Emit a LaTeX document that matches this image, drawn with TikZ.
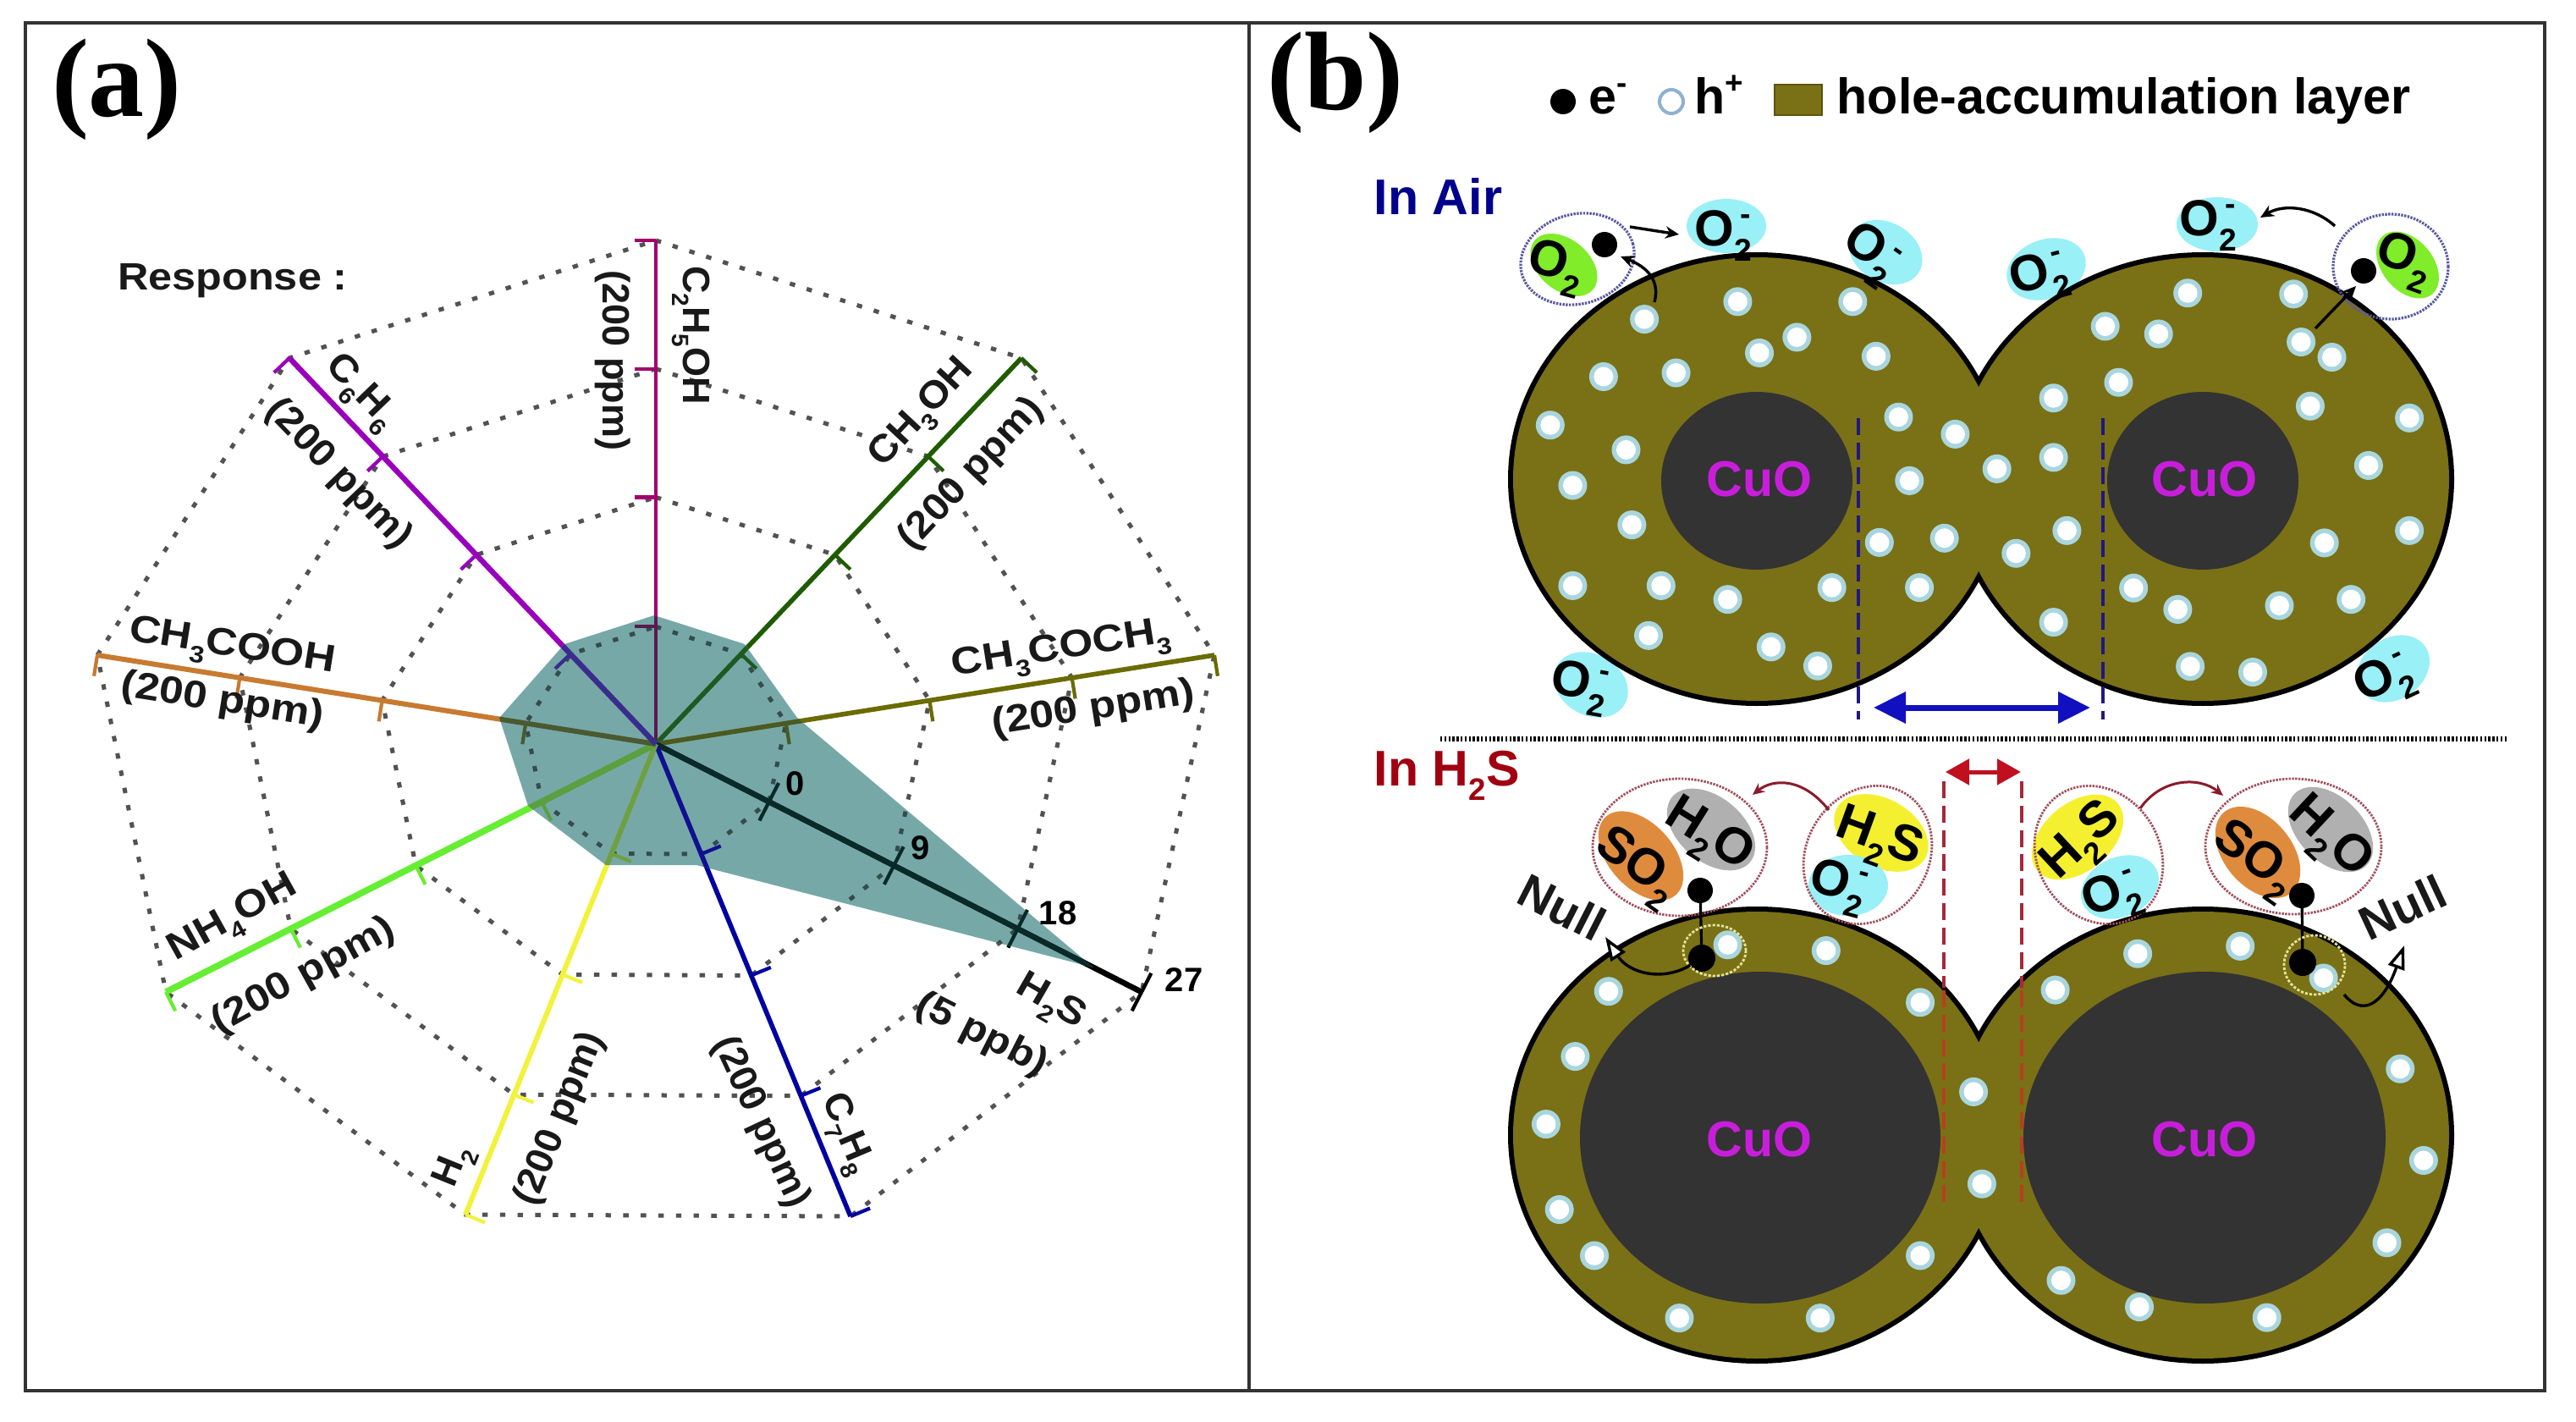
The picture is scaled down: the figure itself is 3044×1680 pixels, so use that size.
\documentclass[tikz,border=0pt]{standalone}
\usepackage{fontspec}
\setmainfont{Liberation Sans}
\newfontfamily\titlefont{Liberation Serif}
\usetikzlibrary{calc,arrows.meta,shapes.geometric}
\definecolor{olivefill}{HTML}{7A7016}
\definecolor{oliveedge}{HTML}{5C5410}
\definecolor{coredark}{HTML}{333333}
\definecolor{cuotxt}{HTML}{C81EDC}
\definecolor{cyanb}{HTML}{99F0F6}
\definecolor{greenb}{HTML}{80EC2A}
\definecolor{yellowb}{HTML}{F4F030}
\definecolor{orangeb}{HTML}{DF8B3E}
\definecolor{greyb}{HTML}{B0B0B0}
\definecolor{navytxt}{HTML}{00008C}
\definecolor{redtxt}{HTML}{A00010}
\definecolor{teal1}{HTML}{77A8A8}
\definecolor{purpledot}{HTML}{5A5AA0}
\definecolor{reddot}{HTML}{A0505E}
\definecolor{yellowdot}{HTML}{E4E49A}
\definecolor{darkred}{HTML}{8B1A2B}
\definecolor{dashnavy}{HTML}{201880}
\definecolor{arrowblue}{HTML}{1010C0}
\definecolor{arrowred}{HTML}{C01020}
\definecolor{dashred}{HTML}{A5283A}
\definecolor{dashorange}{HTML}{B5401F}
\definecolor{holeedge}{HTML}{A9D6DE}
\definecolor{holering}{HTML}{8FB0D0}
\definecolor{spa}{HTML}{A2006E}
\definecolor{spb}{HTML}{1F5C00}
\definecolor{spc}{HTML}{6B6B00}
\definecolor{spd}{HTML}{000000}
\definecolor{spe}{HTML}{0000A0}
\definecolor{spf}{HTML}{F2F23C}
\definecolor{spg}{HTML}{66EE33}
\definecolor{sph}{HTML}{C87A30}
\definecolor{spi}{HTML}{9900BB}
\definecolor{dka}{HTML}{5A1A50}
\definecolor{dkb}{HTML}{1E5A20}
\definecolor{dkc}{HTML}{4A5A20}
\definecolor{dkd}{HTML}{0A2A2A}
\definecolor{dke}{HTML}{101090}
\definecolor{dkf}{HTML}{6FA040}
\definecolor{dkg}{HTML}{5AA040}
\definecolor{dkh}{HTML}{4A5A30}
\definecolor{dki}{HTML}{3A2C8C}
\newcommand\sbs[1]{\smash{\raisebox{-.3em}{\scalebox{.62}{#1}}}}
\newcommand\sps[1]{\smash{\raisebox{.42em}{\scalebox{.62}{#1}}}}
\newcommand\oxr{O\rlap{\sbs{2}}\hspace{.12em}\sps{-}\hspace{.12em}}
\newcommand\oxp{O\sbs{2}}
\newcommand\hstr[2]{\scalebox{#1}[1]{#2}}
\newcommand\blob[7]{\node[blobst,#7,minimum width=#4*0.5pt,minimum height=#5*0.5pt,rotate=#6] (#1) at (#2,#3) {};}
\newcommand\holeat[2]{\fill[holeedge] (#1,#2) circle [radius=17];\fill[white] (#1,#2) circle [radius=11.5];}
\newcommand\spoke[4]{%
  \draw[line width=#4,color=#2] (c)--(#1);
  \foreach \ff in {.233,.49,.745,1} {
    \coordinate (p) at ($(c)!\ff!(#1)$);
    \draw[line width=1.05pt,color=#2] (p)--($(p)!6.25pt!#3:(c)$);
  }}
\newcommand\polys[1]{%
  \foreach \lv in {.233,.49,.745,1} {
    \draw[dashpoly,color=#1] ($(c)!\lv!(a1)$)--($(c)!\lv!(a2)$)--($(c)!\lv!(a3)$)--($(c)!\lv!(a4)$)--($(c)!\lv!(a5)$)--($(c)!\lv!(a6)$)--($(c)!\lv!(a7)$)--($(c)!\lv!(a8)$)--($(c)!\lv!(a9)$)--cycle;
  }}
\def\tealpts{(773,727)--(880,761)--(942,848)--(1292,1143)--(823,1022)--(716,1022)--(624,952)--(590,848)--(667,761)--cycle}
\tikzset{
  framest/.style={draw=black!80,line width=.8pt},
  dashpoly/.style={line width=1.25pt,dash pattern=on 1.6pt off 3.6pt},
  lab/.style={font=\bfseries\fontsize{11.25}{13}\selectfont,inner sep=0pt,text=black!90},
  num/.style={font=\bfseries\fontsize{10}{12}\selectfont,inner sep=0pt},
  big/.style={font=\bfseries\fontsize{14.8}{17}\selectfont,inner sep=0pt},
  mol/.style={font=\bfseries\fontsize{15}{17}\selectfont,inner sep=0pt},
  cuolab/.style={font=\bfseries\fontsize{14.8}{17}\selectfont,inner sep=0pt,text=cuotxt},
  paneltag/.style={font=\titlefont\bfseries\fontsize{33}{36}\selectfont,inner sep=0pt},
  blobst/.style={ellipse,inner sep=0pt,outer sep=0pt},
  dotp/.style={draw=purpledot,line width=.8pt,dash pattern=on .6pt off .35pt},
  dotr/.style={draw=reddot,line width=.7pt,dash pattern=on .6pt off .35pt},
  doty/.style={draw=yellowdot,line width=.7pt,dash pattern=on .8pt off .5pt},
  smallarrow/.style={line width=.85pt,-{Stealth[length=4pt,width=3.6pt]}},
  nullarrow/.style={line width=.85pt,-{Triangle[open,fill=white,length=7pt,width=5pt]}},
}
\begin{document}
\begin{tikzpicture}[x=0.25pt,y=-0.25pt]
\useasboundingbox (0,0) rectangle (3044,1680);
\fill[white] (0,0) rectangle (3044,1680);
\draw[framest] (30,27) rectangle (3007,1643);
\draw[framest] (1476,27)--(1476,1643);

% ---------- panel (a) ----------
\node[paneltag] (taga) at (138,106) {(a)};
\node[lab] (resp) at (275,332) {\hstr{1.12}{Response :}};
\coordinate (c) at (775,879);
\coordinate (a1) at (775,284);
\coordinate (a2) at (1207,423);
\coordinate (a3) at (1435,774);
\coordinate (a4) at (1349,1172);
\coordinate (a5) at (1005,1437);
\coordinate (a6) at (550,1435);
\coordinate (a7) at (196,1172);
\coordinate (a8) at (115,774);
\coordinate (a9) at (342,423);
\polys{black!68}
\spoke{a1}{spa}{-90}{1.2pt}
\spoke{a2}{spb}{90}{1.4pt}
\spoke{a3}{spc}{90}{1.4pt}
\spoke{a4}{spd}{90}{1.6pt}
\spoke{a4}{spd}{-90}{1.6pt}
\spoke{a5}{spe}{-90}{1.4pt}
\spoke{a6}{spf}{-90}{1.5pt}
\spoke{a7}{spg}{-90}{1.9pt}
\spoke{a8}{sph}{-90}{1.5pt}
\spoke{a9}{spi}{-90}{1.6pt}
\fill[teal1] \tealpts;
\begin{scope}
\clip \tealpts;
\polys{black!55!teal1}
\spoke{a1}{dka}{-90}{1.2pt}
\spoke{a2}{dkb}{90}{1.4pt}
\spoke{a3}{dkc}{90}{1.4pt}
\spoke{a4}{dkd}{90}{1.6pt}
\spoke{a4}{dkd}{-90}{1.6pt}
\spoke{a5}{dke}{-90}{1.4pt}
\spoke{a6}{dkf}{-90}{1.5pt}
\spoke{a7}{dkg}{-90}{1.9pt}
\spoke{a8}{dkh}{-90}{1.5pt}
\spoke{a9}{dki}{-90}{1.6pt}
\end{scope}

\node[lab,rotate=-90] (l1a) at (823,396) {C\sbs{2}H\sbs{5}OH};
\node[lab,rotate=-90] (l1b) at (724,426) {(200 ppm)};
\node[lab,rotate=-46] (l9a) at (430,460) {\hstr{1.07}{C\sbs{6}H\sbs{6}}};
\node[lab,rotate=-46] (l9b) at (400,560) {\hstr{1.07}{(200 ppm)}};
\node[lab,rotate=47] (l2a) at (1086,485) {\hstr{1.07}{CH\sbs{3}OH}};
\node[lab,rotate=47] (l2b) at (1148,560) {\hstr{1.07}{(200 ppm)}};
\node[lab,rotate=9] (l3a) at (1253,763) {\hstr{1.14}{CH\sbs{3}COCH\sbs{3}}};
\node[lab,rotate=9] (l3b) at (1292,838) {\hstr{1.14}{(200 ppm)}};
\node[lab,rotate=-9] (l8a) at (275,760) {\hstr{1.14}{CH\sbs{3}COOH}};
\node[lab,rotate=-9] (l8b) at (263,829) {\hstr{1.14}{(200 ppm)}};
\node[lab,rotate=29] (l7a) at (273,1081) {\hstr{1.13}{NH\sbs{4}OH}};
\node[lab,rotate=29] (l7b) at (359,1153) {\hstr{1.13}{(200 ppm)}};
\node[lab,rotate=68] (l6a) at (531,1376) {H\sbs{2}};
\node[lab,rotate=68] (l6b) at (662,1322) {\hstr{1.02}{(200 ppm)}};
\node[lab,rotate=-67] (l5a) at (1005,1338) {\hstr{1.02}{C\sbs{7}H\sbs{8}}};
\node[lab,rotate=-65] (l5b) at (899,1326) {\hstr{1.02}{(200 ppm)}};
\node[lab,rotate=-30] (l4a) at (1244,1180) {\hstr{1.12}{H\sbs{2}S}};
\node[lab,rotate=-27] (l4b) at (1160,1223) {\hstr{1.12}{(5 ppb)}};
\node[num] (n0) at (940,926) {0};
\node[num] (n9) at (1088,1002) {9};
\node[num] (n18) at (1250,1079) {18};
\node[num] (n27) at (1399,1158) {27};

% ---------- panel (b) ----------
\node[paneltag] (tagb) at (1578,98) {(b)};
\node[blobst,fill=black,minimum width=7.5pt,minimum height=7.5pt] (legE) at (1847,120) {};
\node[big,anchor=base west] (legEt) at (1877,135) {e\sps{-}};
\node[blobst,draw=holering,fill=white,line width=1pt,minimum width=7pt,minimum height=7pt] (legH) at (1975,120) {};
\node[big,anchor=base west] (legHt) at (2002,135) {h\sps{+}};
\node[draw=oliveedge,fill=olivefill,line width=.5pt,minimum width=14pt,minimum height=9pt,inner sep=0pt] (legS) at (2125,118) {};
\node[big,anchor=base west] (legSt) at (2170,135) {hole-accumulation layer};
\node[big,anchor=base west,text=navytxt] (air) at (1623,253) {In Air};
\node[big,anchor=base west,text=redtxt] (hs) at (1623,928) {In H\sbs{2}S};
\coordinate (sepL) at (1702,873);
\coordinate (sepR) at (2964,873);
\draw[line width=1.4pt,dash pattern=on .6pt off .6pt] (sepL)--(sepR);

% cyan blobs lie behind the grains
\blob{cy1}{2040}{267}{47}{32}{0}{fill=cyanb}
\blob{cy2}{2228}{298}{46}{35}{-30}{fill=cyanb}
\blob{cy3}{2418}{318}{48}{35}{20}{fill=cyanb}
\blob{cy4}{2620}{265}{48}{32}{0}{fill=cyanb}
\blob{cy5}{1880}{809}{46}{36}{-30}{fill=cyanb}
\blob{cy6}{2828}{790}{46}{36}{35}{fill=cyanb}

% upper grains
\draw[line width=3pt] (2076,566) ellipse [x radius=288,y radius=262];
\draw[line width=3pt] (2603,566) ellipse [x radius=291,y radius=262];
\fill[olivefill] (2076,566) ellipse [x radius=288,y radius=262];
\fill[olivefill] (2603,566) ellipse [x radius=291,y radius=262];
\fill[coredark] (2076,568) ellipse [x radius=113,y radius=105];
\fill[coredark] (2603,568) ellipse [x radius=113,y radius=105];
\node[cuolab] (cuo1) at (2079,566) {CuO};
\node[cuolab] (cuo2) at (2605,566) {CuO};
\foreach \a/\b in {450/672,562/635,700/635,633/710,588/743,728/750,401/793,488/785,337/895,428/947,364/1022,435/1105,364/1233,470/1233,550/1262,675/1237,455/1338,602/1362,658/1402,755/878,823/914,768/1012,732/1142,810/1133,780/1237,873/987,941/838,941/963,957/1117,896/1165,941/1310,1019/805,1003/687,1067/703,1102/617,1229/619,1238/720,1275/752,1249/855,1368/880,1319/980,1368/1117,1266/1143,1298/1262,1212/1275,1037/1238,1090/1283,1105/1403,1180/1415}
  {\holeat{{\a/1.0155+1500}}{{\b/1.782}}}
\coordinate (bdL1) at (2196,494);
\coordinate (bdL2) at (2196,850);
\coordinate (bdR1) at (2485,494);
\coordinate (bdR2) at (2485,850);
\draw[dashnavy,line width=.9pt,dash pattern=on 5pt off 2.2pt] (bdL1)--(bdL2);
\draw[dashnavy,line width=.9pt,dash pattern=on 5pt off 2.2pt] (bdR1)--(bdR2);
\coordinate (baL) at (2214,836);
\coordinate (baR) at (2470,836);
\draw[arrowblue,line width=1.75pt,{Triangle[length=9.5pt,width=9pt]}-{Triangle[length=9.5pt,width=9pt]}] (baL)--(baR);

% upper molecules
\node[mol] (ot1) at (2036,270) {\oxr};
\node[mol,rotate=-35] (ot2) at (2213,293) {\oxr};
\node[mol,rotate=15] (ot3) at (2407,320) {\oxr};
\node[mol] (ot4) at (2609,258) {\oxr};
\node[mol,rotate=-10] (ot5) at (1867,804) {\oxr};
\node[mol,rotate=25] (ot6) at (2814,798) {\oxr};
\blob{grL}{1848}{313}{45}{30}{-40}{fill=greenb}
\blob{bubL}{1864}{306}{68}{53}{15}{dotp}
\node[mol,rotate=-15] (o2L) at (1840,308) {\oxp};
\node[blobst,fill=black,minimum width=7.5pt,minimum height=7.5pt] (eL) at (1896,289) {};
\coordinate (arA) at (1926,268);
\coordinate (arB) at (1984,277);
\draw[smallarrow] (arA)--(arB);
\coordinate (arC) at (1955,357);
\coordinate (arD) at (1915,303);
\draw[smallarrow] (arC) .. controls (1962,330) and (1945,315) .. (arD);
\blob{grR}{2845}{313}{45}{30}{-50}{fill=greenb}
\blob{bubR}{2825}{315}{68}{62}{0}{dotp}
\node[mol,rotate=-20] (o2R) at (2843,301) {\oxp};
\node[blobst,fill=black,minimum width=7.5pt,minimum height=7.5pt] (eR) at (2793,320) {};
\coordinate (arE) at (2736,388);
\coordinate (arF) at (2784,338);
\draw[smallarrow] (arE)--(arF);
\coordinate (arG) at (2759,267);
\coordinate (arH) at (2671,257);
\draw[smallarrow] (arG) .. controls (2735,245) and (2700,240) .. (arH);

% lower grains
\draw[line width=3pt] (2076,1341) ellipse [x radius=288,y radius=264];
\draw[line width=3pt] (2603,1341) ellipse [x radius=291,y radius=264];
\fill[olivefill] (2076,1341) ellipse [x radius=288,y radius=264];
\fill[olivefill] (2603,1341) ellipse [x radius=291,y radius=264];
\fill[coredark] (2080,1344) ellipse [x radius=213,y radius=196];
\fill[coredark] (2605,1344) ellipse [x radius=214,y radius=196];
\node[cuolab] (cuo3) at (2079,1346) {CuO};
\node[cuolab] (cuo4) at (2605,1346) {CuO};
\foreach \a/\b in {550/490,668/503,407/595,781/620,367/742,332/895,348/1088,390/1192,492/1333,661/1333,781/1192,845/822,855/1030,1042/510,1165/493,1265/565,943/592,1357/770,1385/977,1341/1163,950/1248,1044/1308,1197/1332}
  {\holeat{{\a/1.0155+1500}}{{\b/1.912+860}}}
\draw[dashred,line width=1pt,dash pattern=on 5pt off 2.2pt] (2297,923)--(2297,1167);
\draw[dashred,line width=1pt,dash pattern=on 5pt off 2.2pt] (2389,923)--(2389,1167);
\draw[dashorange,line width=1pt,dash pattern=on 5pt off 2.2pt] (2297,1170)--(2297,1427);
\draw[dashorange,line width=1pt,dash pattern=on 5pt off 2.2pt] (2389,1170)--(2389,1427);
\coordinate (raL) at (2299,912);
\coordinate (raR) at (2388,912);
\draw[arrowred,line width=1.25pt,{Triangle[length=7pt,width=7.5pt]}-{Triangle[length=7pt,width=7.5pt]}] (raL)--(raR);

% lower left group
\blob{soL}{1939}{1011}{62}{38}{-48}{fill=orangeb}
\blob{hoL}{2022}{980}{60}{38}{-40}{fill=greyb}
\blob{prodL}{1985}{1001}{103}{81}{0}{dotr}
\node[mol,rotate=-35] (soLt) at (1938,1018) {SO\sbs{2}};
\node[mol,rotate=-32] (hoLt) at (2022,982) {H\sbs{2}O};
\node[blobst,fill=black,minimum width=7.5pt,minimum height=7.5pt] (dA) at (2009,1052) {};
\node[blobst,fill=black,minimum width=8pt,minimum height=8pt] (dB) at (2011,1132) {};
\draw[line width=.8pt] (dA)--(dB);
\blob{ringA}{2026}{1123}{37}{30}{0}{doty}
\node[lab,font=\bfseries\fontsize{14}{16}\selectfont,rotate=-27] (nullL) at (1846,1072) {Null};
\coordinate (cvA) at (1897,1107);
\draw[nullarrow] (dB) .. controls (1965,1160) and (1925,1150) .. (cvA);
\blob{yeL}{2223}{984}{60}{40}{-30}{fill=yellowb}
\blob{cy7}{2184}{1046}{47}{36}{0}{fill=cyanb}
\blob{grpL}{2207}{1010}{85}{72}{58}{dotr}
\node[mol,rotate=-20] (hsLt) at (2222,985) {H\sbs{2}S};
\node[mol,rotate=-15] (ot7) at (2173,1040) {\oxr};
\coordinate (caA) at (2161,957);
\coordinate (caB) at (2071,939);
\draw[darkred,line width=.75pt,-{Stealth[length=3.5pt,width=3.2pt]}] (caA) .. controls (2130,918) and (2095,920) .. (caB);

% lower right group
\blob{soR}{2668}{1007}{62}{40}{-50}{fill=orangeb}
\blob{hoR}{2754}{980}{60}{38}{-45}{fill=greyb}
\blob{prodR}{2710}{1000}{104}{80}{0}{dotr}
\node[mol,rotate=-35] (soRt) at (2668,1010) {SO\sbs{2}};
\node[mol,rotate=-43] (hoRt) at (2757,985) {H\sbs{2}O};
\node[blobst,fill=black,minimum width=7.5pt,minimum height=7.5pt] (dC) at (2720,1058) {};
\node[blobst,fill=black,minimum width=8pt,minimum height=8pt] (dD) at (2721,1137) {};
\draw[line width=.8pt] (dC)--(dD);
\blob{ringB}{2735}{1140}{36}{35}{0}{doty}
\node[lab,font=\bfseries\fontsize{14}{16}\selectfont,rotate=25] (nullR) at (2839,1072) {Null};
\coordinate (cvB) at (2770,1175);
\coordinate (cvC) at (2841,1117);
\draw[nullarrow] (cvB) .. controls (2790,1200) and (2815,1190) .. (cvC);
\blob{yeR}{2455}{989}{62}{40}{40}{fill=yellowb}
\blob{cy8}{2505}{1048}{48}{35}{25}{fill=cyanb}
\blob{grpR}{2480}{1010}{85}{72}{-58}{dotr}
\node[mol,rotate=43] (hsRt) at (2456,990) {H\sbs{2}S};
\node[mol,rotate=20] (ot8) at (2493,1053) {\oxr};
\coordinate (caC) at (2529,955);
\coordinate (caD) at (2627,940);
\draw[darkred,line width=.75pt,-{Stealth[length=3.5pt,width=3.2pt]}] (caC) .. controls (2555,918) and (2600,918) .. (caD);
\end{tikzpicture}
\end{document}
